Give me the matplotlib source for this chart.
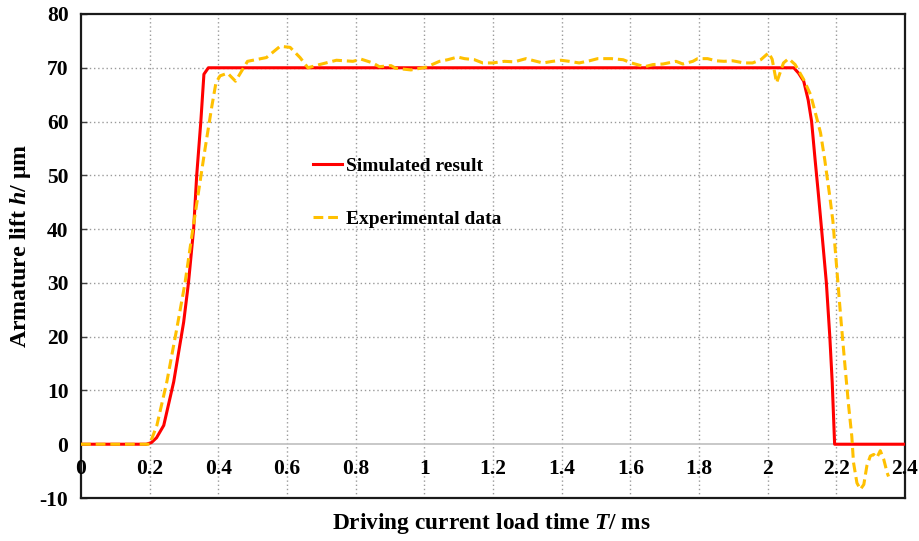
import matplotlib
matplotlib.use("Agg")
import matplotlib.pyplot as plt
import matplotlib.transforms as mtransforms

# ---- data ----
sim_t = [0, 0.19, 0.205, 0.22, 0.241, 0.27, 0.299, 0.313, 0.328, 0.337, 0.349, 0.358, 0.371,
         2.076, 2.09, 2.105, 2.118, 2.128, 2.138, 2.147, 2.157, 2.171, 2.181, 2.188, 2.195, 2.4]
sim_h = [0, 0, 0.3, 1.2, 3.5, 11.6, 22.7, 30, 40, 50, 60, 68.8, 70,
         70, 69, 67.5, 64, 60, 53, 47, 40, 30, 20, 11.5, 0, 0]

exp_t = [0, 0.2, 0.221, 0.25, 0.279, 0.303, 0.323, 0.342, 0.361, 0.381, 0.393, 0.405, 0.427,
         0.45, 0.485, 0.54, 0.58, 0.609, 0.638, 0.661, 0.695, 0.744, 0.792, 0.816, 0.85, 0.869,
         0.903, 0.917, 0.961, 1.005, 1.044, 1.068, 1.097, 1.117, 1.146, 1.17, 1.199, 1.233, 1.262,
         1.296, 1.32, 1.345, 1.374, 1.398, 1.422, 1.451, 1.481, 1.505, 1.545, 1.579, 1.603, 1.642,
         1.666, 1.695, 1.733, 1.753, 1.782, 1.796, 1.825, 1.849, 1.873, 1.898, 1.931, 1.956, 1.98,
         2.003, 2.013, 2.026, 2.046, 2.061, 2.08, 2.105, 2.125, 2.139, 2.154, 2.166, 2.18, 2.19,
         2.203, 2.214, 2.226, 2.236, 2.245, 2.25, 2.26, 2.27, 2.28, 2.289, 2.299, 2.309, 2.318,
         2.328, 2.338, 2.348, 2.352]
exp_h = [0, 0, 3.5, 11.6, 21.5, 30, 38.8, 46.8, 54.8, 62.8, 67.2, 68.5, 69,
         67.5, 71.2, 71.9, 74, 73.8, 71.9, 70, 70.6, 71.4, 71.2, 71.6, 70.9, 70.2,
         70.4, 69.9, 69.6, 70.1, 71.2, 71.5, 72, 71.7, 71.5, 70.9, 70.9, 71.2, 71.1,
         71.7, 71.3, 70.9, 71.2, 71.4, 71.2, 70.9, 71.3, 71.7, 71.7, 71.5, 70.9, 70.2,
         70.6, 70.7, 71.2, 70.7, 71.2, 71.7, 71.7, 71.3, 71.2, 71.3, 70.9, 70.9, 71.5,
         72.8, 71.6, 67.2, 70.9, 71.7, 70.6, 67.8, 65, 61.6, 57.9, 53, 46.5, 41.5,
         31.3, 22.7, 14, 7, 1.5, -3.4, -7.2, -8.4, -7.5, -4, -2.2, -1.9, -2.5,
         -1.2, -2.8, -5.3, -6]

x_ticks = [0, 0.2, 0.4, 0.6, 0.8, 1, 1.2, 1.4, 1.6, 1.8, 2, 2.2, 2.4]
x_labels = ["0", "0.2", "0.4", "0.6", "0.8", "1", "1.2", "1.4", "1.6", "1.8", "2", "2.2", "2.4"]
y_ticks = [-10, 0, 10, 20, 30, 40, 50, 60, 70, 80]
y_labels = ["-10", "0", "10", "20", "30", "40", "50", "60", "70", "80"]

# ---- style ----
plt.rcParams['font.family'] = ['Liberation Serif', 'DejaVu Serif']
plt.rcParams['font.weight'] = 'bold'
plt.rcParams['mathtext.fontset'] = 'custom'
plt.rcParams['mathtext.it'] = 'Liberation Serif:bold:italic'
plt.rcParams['mathtext.rm'] = 'Liberation Serif:bold'

W, H = 919, 541
fig = plt.figure(figsize=(W / 100, H / 100), dpi=100)
ax = fig.add_axes([81 / W, 1 - 498 / H, (905 - 81) / W, (498 - 14) / H])

ax.set_xlim(0, 2.4)
ax.set_ylim(-10, 80)

# grid
for xt in x_ticks[1:-1]:
    ax.axvline(xt, color='#9a9a9a', lw=1.0, ls=(0, (1, 2)), zorder=0)
for yt in y_ticks[1:-1]:
    if yt == 0:
        ax.axhline(0, color='#c4c4c4', lw=1.3, zorder=0.5)
    else:
        ax.axhline(yt, color='#9a9a9a', lw=1.0, ls=(0, (1, 2)), zorder=0)

ax.plot(sim_t, sim_h, color='#FF0000', lw=2.2, zorder=3, label='Simulated result')
ax.plot(exp_t, exp_h, color='#FFC000', lw=2.2, ls=(0, (3.2, 1.6)), zorder=4,
        label='Experimental data')

# y ticks
ax.set_yticks(y_ticks)
ax.set_yticklabels(y_labels, fontsize=15.5, fontweight='bold')
ax.tick_params(axis='y', direction='in', length=4, width=1, color='#404040', pad=9)

# x tick labels placed along the y=0 line
ax.set_xticks([])
off = mtransforms.offset_copy(ax.transData, fig=fig, x=0, y=-24.5, units='dots')
for xt, lab in zip(x_ticks, x_labels):
    ax.text(xt, 0, lab, transform=off, ha='center', va='center', fontsize=15.5,
            fontweight='bold', zorder=5, clip_on=False)

for s in ax.spines.values():
    s.set_linewidth(1.6)
    s.set_color('#1a1a1a')

fig.text(491 / W, 1 - 524 / H, r'Driving current load time $T$/ ms',
         ha='center', va='center', fontsize=16.8, fontweight='bold')
fig.text(21 / W, 1 - 246 / H, r'Armature lift $h$/ μm', ha='center', va='center',
         rotation=90, fontsize=17.2, fontweight='bold')

leg = ax.legend(loc='upper left', bbox_to_anchor=(313 / W, 1 - 157.5 / H),
                bbox_transform=fig.transFigure, frameon=False,
                handlelength=1.5, handletextpad=0.2, labelspacing=1.82,
                borderpad=0, borderaxespad=0, prop={'weight': 'bold', 'size': 14})

fig.savefig('out.png', dpi=100, facecolor='white')
